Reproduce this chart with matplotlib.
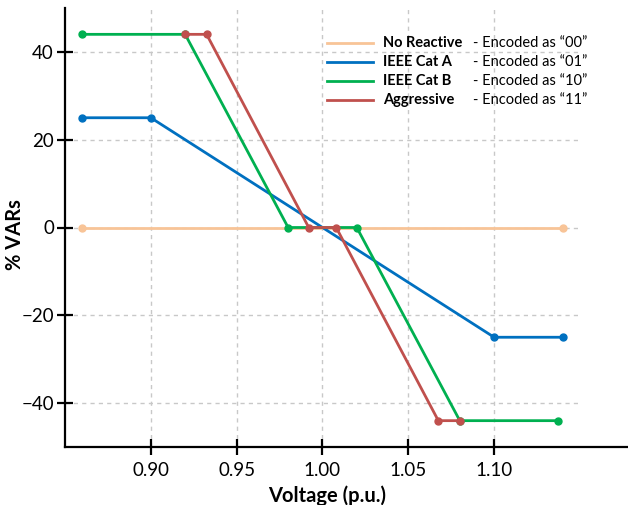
import matplotlib
matplotlib.use("Agg")
import matplotlib.pyplot as plt
from matplotlib.lines import Line2D

plt.rcParams['font.family'] = ['Lato', 'DejaVu Sans']

# Volt-VAR curves: voltage (p.u.) breakpoints and reactive power (% VARs)
no_reactive_v = [0.86, 1.14]
no_reactive_q = [0, 0]

cat_a_v = [0.86, 0.90, 1.10, 1.14]
cat_a_q = [25, 25, -25, -25]

cat_b_v = [0.86, 0.92, 0.98, 1.02, 1.08, 1.1375]
cat_b_q = [44, 44, 0, 0, -44, -44]

aggressive_v = [0.92, 0.9325, 0.992, 1.008, 1.0675, 1.08]
aggressive_q = [44, 44, 0, 0, -44, -44]

series_names = ["No Reactive", "IEEE Cat A", "IEEE Cat B", "Aggressive"]
series_codes = ["- Encoded as \u201c00\u201d", "- Encoded as \u201c01\u201d",
                "- Encoded as \u201c10\u201d", "- Encoded as \u201c11\u201d"]
colors = ["#F8C497", "#0070C0", "#00B050", "#C0504D"]

x_ticks = [0.90, 0.95, 1.00, 1.05, 1.10]
x_tick_labels = ["0.90", "0.95", "1.00", "1.05", "1.10"]
y_ticks = [-40, -20, 0, 20, 40]

fig = plt.figure(figsize=(6.28, 5.05), dpi=100)
ax = fig.add_axes([65 / 628, 58 / 505, 563 / 628, 439 / 505])

ax.set_xlim(0.85, 1.178)
ax.set_ylim(-50, 50)

# grid: vertical dashed lines at ticks, horizontal ones across the plot area
for xv in x_ticks:
    ax.axvline(xv, color="#C8C8C8", lw=1.0, ls=(0, (3, 3)), zorder=0)
ax.hlines(y_ticks, 0.85, 1.15, colors="#C8C8C8", lw=1.0, linestyles=(0, (3, 3)), zorder=0)

data = [(no_reactive_v, no_reactive_q), (cat_a_v, cat_a_q),
        (cat_b_v, cat_b_q), (aggressive_v, aggressive_q)]
order = [0, 1, 3, 2]
for i in order:
    v, q = data[i]
    ax.plot(v, q, color=colors[i], lw=2.0, marker="o", markersize=5,
            solid_joinstyle="round", zorder=3 + i)

ax.set_xticks(x_ticks)
ax.set_xticklabels(x_tick_labels)
ax.set_yticks(y_ticks)
ax.tick_params(axis="both", direction="inout", length=12, width=1.6,
               labelsize=13.5, color="black")
ax.tick_params(axis="x", pad=5)
ax.tick_params(axis="y", pad=2)

for side in ["top", "right"]:
    ax.spines[side].set_visible(False)
for side in ["left", "bottom"]:
    ax.spines[side].set_linewidth(1.6)

ax.set_xlabel("Voltage (p.u.)", fontsize=14.5, fontweight="bold")
ax.xaxis.set_label_coords(0.465, -0.088)
ax.set_ylabel("% VARs", fontsize=14.5, fontweight="bold")
ax.yaxis.set_label_coords(-0.071, 0.485)

# legend drawn in figure pixels
row_y = [42.7, 61.7, 81.0, 100.3]
for name, code, col, yy in zip(series_names, series_codes, colors, row_y):
    yf = 1 - yy / 505
    fig.add_artist(Line2D([327 / 628, 373 / 628], [yf, yf], color=col, lw=2.0))
    fig.text(383 / 628, yf, name, fontsize=10.5, fontweight="bold", va="center", ha="left")
    fig.text(473 / 628, yf, code, fontsize=10.5, va="center", ha="left")

fig.savefig("out.png", dpi=100)
